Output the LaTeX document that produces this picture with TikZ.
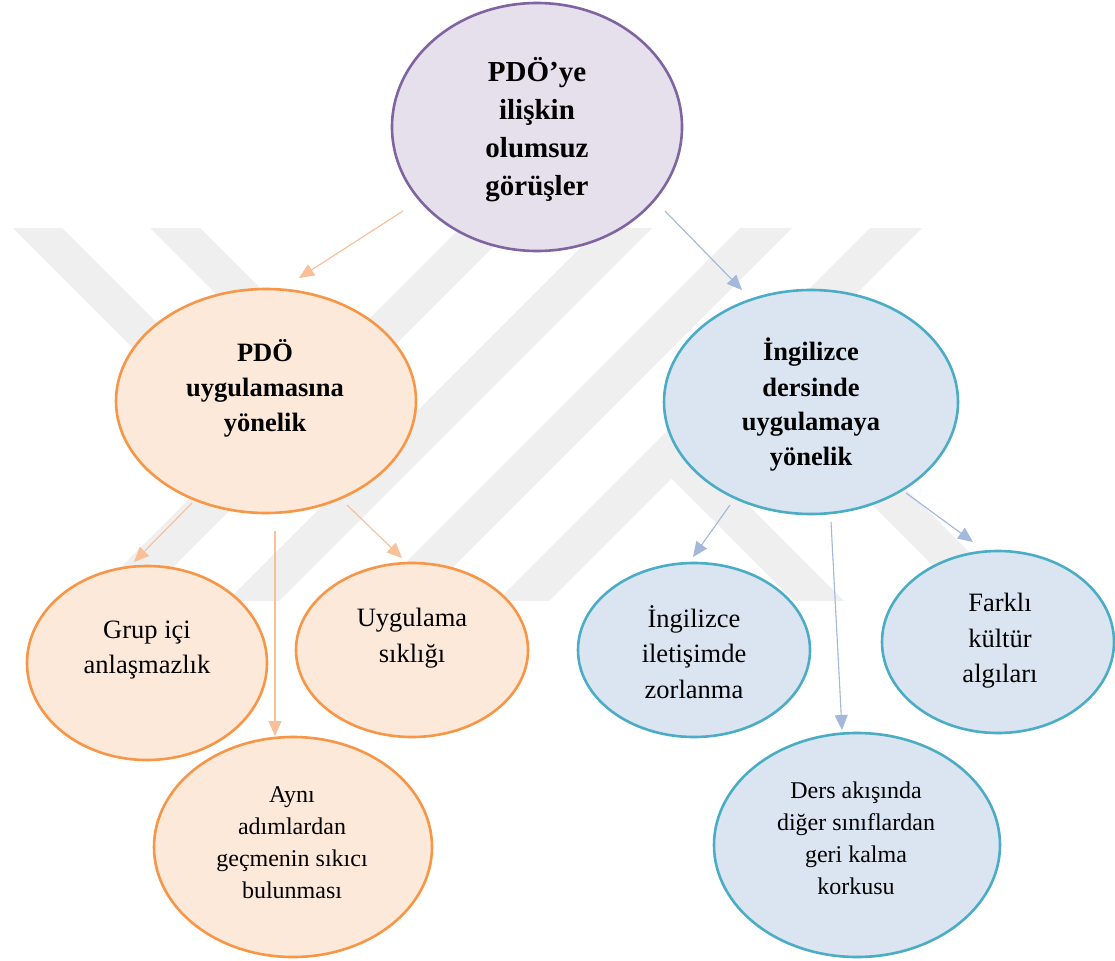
\documentclass[tikz,border=0pt]{standalone}
\usepackage{fontspec}
\setmainfont{Liberation Serif}
\usetikzlibrary{shapes.geometric,arrows.meta}
\definecolor{pBorder}{HTML}{8064A2}
\definecolor{pFill}{HTML}{E5E0EC}
\definecolor{oBorder}{HTML}{F79646}
\definecolor{oFill}{HTML}{FDE9D9}
\definecolor{oArrow}{HTML}{F9BF97}
\definecolor{bBorder}{HTML}{4BACC6}
\definecolor{bFill}{HTML}{DBE5F1}
\definecolor{bArrow}{HTML}{A3B8DB}
\definecolor{wmark}{RGB}{239,239,239}
\begin{document}
\begin{tikzpicture}[x=1pt,y=-1pt,
  ell/.style={ellipse, inner sep=0pt, line width=2.6pt},
  purpleE/.style={ell, draw=pBorder, fill=pFill},
  orangeE/.style={ell, draw=oBorder, fill=oFill},
  blueE/.style={ell, draw=bBorder, fill=bFill},
  txtTop/.style={align=center, inner sep=0pt, font=\fontsize{29}{38}\selectfont\bfseries},
  txtMid/.style={align=center, inner sep=0pt, font=\fontsize{26.5}{35}\selectfont\bfseries},
  txtLeaf/.style={align=center, inner sep=0pt, font=\fontsize{26.5}{35.5}\selectfont},
  txtSmall/.style={align=center, inner sep=0pt, font=\fontsize{24}{32}\selectfont},
  arr/.style={line width=1.1pt, -{Triangle[length=15pt,width=13pt]}},
  oarr/.style={arr, draw=oArrow, fill=oArrow},
  barr/.style={arr, draw=bArrow, fill=bArrow},
  wmband/.style={fill=wmark, draw=none}
]
\useasboundingbox (0,0) rectangle (1115,960);
\fill[white] (0,0) rectangle (1115,960);

% watermark (faint diagonal bands)
\begin{scope}
  \clip (0,228) rectangle (1115,600);
  % bands falling to the lower left
  \foreach \a in {460,600,740,870}{
    \fill[wmband] (\a,228) -- (\a+52,228) -- (\a-348,628) -- (\a-400,628) -- cycle;
  }
  % bands falling to the lower right, joining the ones above
  \fill[wmband] (13,228) -- (62,228) -- (273.5,439.5) -- (249,464) -- cycle;
  \fill[wmband] (150,228) -- (200,228) -- (413.75,441.75) -- (388.75,466.75) -- cycle;
  \fill[wmband] (665,472) -- (690,447) -- (873,630) -- (823,630) -- cycle;
  \fill[wmband] (767,400) -- (817,400) -- (1047,630) -- (997,630) -- cycle;
\end{scope}

% ellipses
\node[purpleE, minimum width=290pt, minimum height=248pt] (top) at (537,127) {};
\node[orangeE, minimum width=300pt, minimum height=224pt] (pdo) at (266,401) {};
\node[blueE, minimum width=294pt, minimum height=224pt] (ing) at (811,402) {};
\node[orangeE, minimum width=240pt, minimum height=194pt] (grup) at (147,663) {};
\node[orangeE, minimum width=232pt, minimum height=174pt] (uyg) at (412,650) {};
\node[orangeE, minimum width=278pt, minimum height=220pt] (ayni) at (293,847) {};
\node[blueE, minimum width=232pt, minimum height=174pt] (ilet) at (694,650) {};
\node[blueE, minimum width=232pt, minimum height=182pt] (fark) at (998,642) {};
\node[blueE, minimum width=286pt, minimum height=224pt] (ders) at (857,845) {};

% texts
\node[txtTop] (topT) at (537,130) {PDÖ’ye\\ilişkin\\olumsuz\\görüşler};
\node[txtMid] (pdoT) at (265,388) {PDÖ\\uygulamasına\\yönelik};
\node[txtMid] (ingT) at (811,405) {İngilizce\\dersinde\\uygulamaya\\yönelik};
\node[txtLeaf] (grupT) at (147,650) {Grup içi\\anlaşmazlık};
\node[txtLeaf] (uygT) at (412,638) {Uygulama\\sıklığı};
\node[txtSmall] (ayniT) at (292,843) {Aynı\\adımlardan\\geçmenin sıkıcı\\bulunması};
\node[txtLeaf] (iletT) at (694,652) {İngilizce\\iletişimde\\zorlanma};
\node[txtLeaf] (farkT) at (1000,641) {Farklı\\kültür\\algıları};
\node[txtSmall] (dersT) at (856,838) {Ders akışında\\diğer sınıflardan\\geri kalma\\korkusu};

% connector end points
\coordinate (topL) at (403,211);
\coordinate (pdoIn) at (299,278);
\coordinate (topR) at (665,211);
\coordinate (ingIn) at (742,290);
\coordinate (pdoA) at (192,503);
\coordinate (grupIn) at (134,562);
\coordinate (pdoB) at (275,531);
\coordinate (ayniIn) at (275,736);
\coordinate (pdoC) at (347,505);
\coordinate (uygIn) at (402,558);
\coordinate (ingA) at (730,505);
\coordinate (iletIn) at (693,557);
\coordinate (ingB) at (831,522);
\coordinate (dersIn) at (842,730);
\coordinate (ingC) at (906,493);
\coordinate (farkIn) at (973,542);

\draw[oarr] (topL) -- (pdoIn);
\draw[barr] (topR) -- (ingIn);
\draw[oarr] (pdoA) -- (grupIn);
\draw[oarr] (pdoB) -- (ayniIn);
\draw[oarr] (pdoC) -- (uygIn);
\draw[barr] (ingA) -- (iletIn);
\draw[barr] (ingB) -- (dersIn);
\draw[barr] (ingC) -- (farkIn);
\end{tikzpicture}
\end{document}
